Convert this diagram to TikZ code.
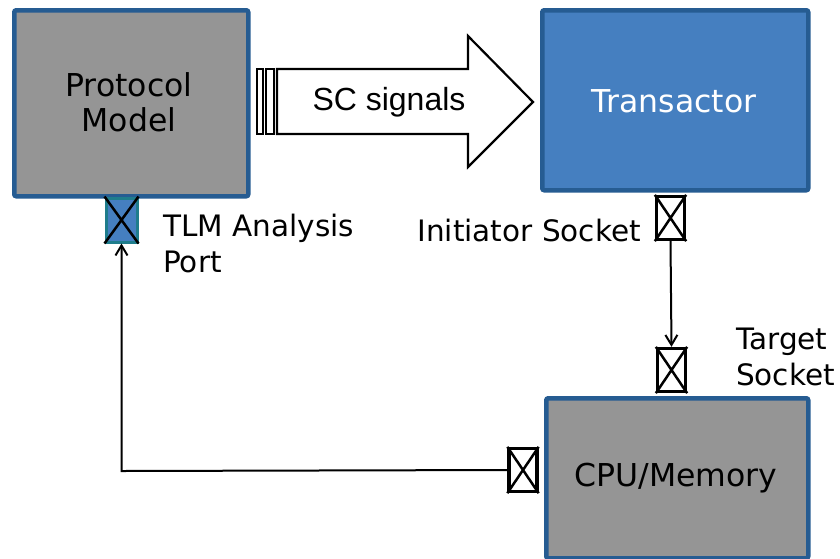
\documentclass[tikz,border=0pt]{standalone}
\usepackage{fontspec}
\setmainfont{DejaVu Sans}
\newfontfamily\arialfont{Liberation Sans}
\usetikzlibrary{arrows.meta}
\definecolor{blockgray}{HTML}{959595}
\definecolor{blockedge}{HTML}{265C92}
\definecolor{xactfill}{HTML}{457FC0}
\definecolor{portedge}{HTML}{1F7D8C}
\tikzset{
  block/.style={draw=blockedge, line width=4.5pt, rounded corners=2pt, inner sep=0pt, anchor=north west},
  sock/.style={draw=black, line width=3.3pt, fill=white, minimum width=28pt, minimum height=43pt, inner sep=0pt},
  xmark/.style={line width=2.5pt},
  conn/.style={line width=2pt, -{Straight Barb[length=10pt, width=12pt, line width=2pt]}},
  lbl/.style={font=\fontsize{29.5}{36}\selectfont, inner sep=0pt},
  blk/.style={font=\fontsize{31.5}{35}\selectfont, inner sep=0pt}
}
\begin{document}
\begin{tikzpicture}[x=1pt, y=-1pt]
\useasboundingbox (0,0) rectangle (840,558);

% blocks
\node[block, fill=blockgray, minimum width=234pt, minimum height=186pt] (pm) at (12,8) {};
\node[blk, align=center] (pmtxt) at (129,102) {Protocol\\Model};

\node[block, fill=xactfill, minimum width=266pt, minimum height=180pt] (tr) at (540,8) {};
\node[blk, text=white] (trtxt) at (674,101) {Transactor};

\node[block, fill=blockgray, minimum width=262pt, minimum height=160pt] (cpu) at (544,396) {};
\node[blk] (cputxt) at (676,478) {CPU/Memory};

% signal bundle arrow
\draw[line width=2.2pt, fill=white] (277,69) -- (468,69) -- (468,36) -- (533,102) -- (468,167) -- (468,134) -- (277,134) -- cycle;
\node[draw, line width=2.2pt, fill=white, minimum width=6pt, minimum height=65pt, inner sep=0pt] (stripeA) at (260,101.5) {};
\node[draw, line width=2.2pt, fill=white, minimum width=8pt, minimum height=65pt, inner sep=0pt] (stripeB) at (270,101.5) {};
\node[font=\arialfont\fontsize{32}{36}\selectfont, inner sep=0pt] (sctxt) at (389,102) {SC signals};

% analysis port
\node[draw=portedge, line width=3pt, fill=xactfill, minimum width=31pt, minimum height=44pt, inner sep=0pt] (ap) at (121.5,220) {};
\draw[xmark] (ap.north west) -- (ap.south east) (ap.north east) -- (ap.south west);

% sockets
\node[sock] (isock) at (670.5,218) {};
\draw[xmark] (isock.north west) -- (isock.south east) (isock.north east) -- (isock.south west);
\node[sock] (tsock) at (671.5,370) {};
\draw[xmark] (tsock.north west) -- (tsock.south east) (tsock.north east) -- (tsock.south west);
\node[sock] (csock) at (523,470) {};
\draw[xmark] (csock.north west) -- (csock.south east) (csock.north east) -- (csock.south west);

% connectors
\draw[conn] (isock.south) -- (tsock.north);
\coordinate (bend) at (121.5,471);
\draw[conn] (csock.west) -- (bend) -- (ap.south);

% labels
\node[lbl, anchor=west, align=left] (aplbl) at (163,243) {TLM Analysis\\Port};
\node[lbl, anchor=east] (islbl) at (641,230) {Initiator Socket};
\node[lbl, anchor=west, align=left] (tslbl) at (736,357) {Target\\Socket};
\end{tikzpicture}
\end{document}
